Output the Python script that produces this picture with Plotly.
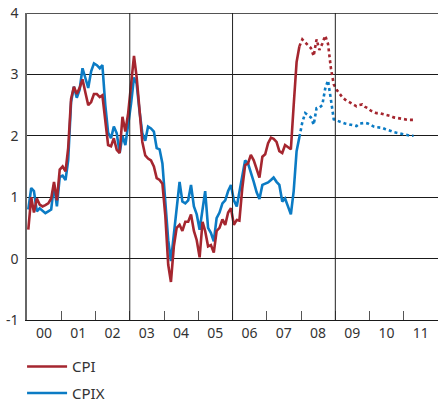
import pandas as pd
import plotly.graph_objects as go

# monthly outcome Jan 2000 - Dec 2007, forecast Dec 2007 - Apr 2011
months = pd.date_range('2000-01-01', periods=96, freq='MS') + pd.Timedelta(days=14)
fc_months = pd.date_range('2007-12-01', periods=41, freq='MS') + pd.Timedelta(days=14)

cpi = [0.47, 1.0, 0.75, 0.98, 0.88, 0.85, 0.87, 0.9, 0.98, 1.25, 0.95, 1.45,
       1.5, 1.42, 1.8, 2.6, 2.8, 2.68, 2.78, 2.92, 2.7, 2.5, 2.55, 2.68,
       2.68, 2.63, 2.66, 2.25, 1.85, 1.83, 1.96, 1.77, 1.72, 2.31, 2.07, 2.37,
       2.8, 3.3, 2.96, 2.4, 1.9, 1.68, 1.63, 1.6, 1.5, 1.31, 1.28, 1.22,
       0.7, -0.1, -0.38, 0.2, 0.5, 0.55, 0.45, 0.6, 0.6, 0.72, 0.45, 0.3,
       0.02, 0.6, 0.45, 0.2, 0.22, 0.1, 0.45, 0.5, 0.64, 0.55, 0.75, 0.82,
       0.55, 0.63, 0.62, 1.15, 1.52, 1.55, 1.69, 1.6, 1.45, 1.32, 1.66, 1.7,
       1.88, 1.97, 1.95, 1.9, 1.75, 1.72, 1.85, 1.82, 1.78, 2.5, 3.2, 3.46]

cpix = [0.8, 1.15, 1.1, 0.77, 0.82, 0.78, 0.74, 0.77, 0.8, 1.2, 0.85, 1.33,
        1.35, 1.28, 1.6, 2.55, 2.8, 2.62, 2.75, 3.1, 2.95, 2.78, 3.05, 3.18,
        3.15, 3.1, 3.15, 2.5, 2.05, 1.96, 2.15, 2.04, 1.72, 2.0, 1.85, 2.15,
        2.53, 2.95, 2.85, 2.4, 2.04, 1.92, 2.15, 2.12, 2.07, 1.8, 1.78, 1.55,
        0.95, 0.3, -0.04, 0.4, 0.85, 1.25, 0.93, 0.9, 0.95, 1.2, 0.85, 0.72,
        0.47, 0.8, 1.1, 0.5, 0.42, 0.28, 0.66, 0.75, 0.9, 0.95, 1.1, 1.2,
        0.95, 0.85, 1.1, 1.4, 1.6, 1.55, 1.42, 1.25, 1.08, 0.97, 1.2, 1.22,
        1.24, 1.28, 1.32, 1.25, 1.2, 0.93, 0.98, 0.85, 0.72, 1.1, 1.75, 1.98]

cpi_fc = [3.46, 3.57, 3.52, 3.48, 3.43, 3.3, 3.57, 3.4, 3.5, 3.63, 3.5, 3.1,
          2.84, 2.75, 2.68, 2.63, 2.59, 2.56, 2.53, 2.5, 2.48, 2.5, 2.51, 2.47,
          2.45, 2.41, 2.39, 2.37, 2.37, 2.36, 2.34, 2.33, 2.32, 2.3, 2.29, 2.29,
          2.28, 2.27, 2.26, 2.26, 2.26]

cpix_fc = [1.98, 2.22, 2.37, 2.34, 2.3, 2.18, 2.45, 2.46, 2.5, 2.77, 2.9, 2.59,
           2.27, 2.25, 2.23, 2.22, 2.2, 2.19, 2.18, 2.17, 2.16, 2.2, 2.21, 2.21,
           2.2, 2.17, 2.15, 2.14, 2.14, 2.13, 2.11, 2.1, 2.08, 2.06, 2.05, 2.03,
           2.02, 2.01, 2.0, 2.0, 2.0]

year_labels = ['00', '01', '02', '03', '04', '05', '06', '07', '08', '09', '10', '11']
label_pos = pd.date_range('2000-07-01', periods=12, freq='12MS')
year_ticks = pd.date_range('2001-01-01', periods=11, freq='12MS')
dividers = ['2003-01-01', '2006-01-01', '2009-01-01']
y_ticks = [-1, 0, 1, 2, 3, 4]
y_labels = ['-1', '0', '1', '2', '3', '4']

RED = '#A5262F'
BLUE = '#0B7BC4'

fig = go.Figure()
fig.add_trace(go.Scatter(x=months, y=cpix, mode='lines', name='CPIX',
                         line=dict(color=BLUE, width=2.6),
                         legendgroup='cpix', legendrank=2))
fig.add_trace(go.Scatter(x=fc_months, y=cpix_fc, mode='lines', showlegend=False,
                         line=dict(color=BLUE, width=2.6, dash='dot'),
                         legendgroup='cpix'))
fig.add_trace(go.Scatter(x=months, y=cpi, mode='lines', name='CPI',
                         line=dict(color=RED, width=2.6),
                         legendgroup='cpi', legendrank=1))
fig.add_trace(go.Scatter(x=fc_months, y=cpi_fc, mode='lines', showlegend=False,
                         line=dict(color=RED, width=2.6, dash='dot'),
                         legendgroup='cpi'))

for d in dividers:
    fig.add_shape(type='line', xref='x', yref='paper', x0=d, x1=d, y0=0, y1=1,
                  line=dict(color='#222', width=1))
# top frame line at 4
fig.add_shape(type='line', xref='paper', yref='y', x0=0, x1=1, y0=4, y1=4,
              line=dict(color='#1a1a1a', width=1.3))

fig.update_layout(
    width=438,
    height=403,
    margin=dict(l=27, r=0, t=13, b=83, autoexpand=False),
    paper_bgcolor='white',
    plot_bgcolor='white',
    font=dict(family='Noto Sans, Open Sans, sans-serif', color='#333', size=14),
    showlegend=True,
    legend=dict(
        x=-0.012, xanchor='left',
        yref='container', y=0.131, yanchor='top',
        traceorder='grouped',
        tracegroupgap=4,
        itemwidth=40,
        font=dict(size=15, color='#333'),
        bgcolor='rgba(0,0,0,0)'
    ),
    xaxis=dict(
        type='date',
        range=['2000-01-01', '2012-01-01'],
        tickmode='array',
        tickvals=label_pos,
        ticktext=year_labels,
        ticks='',
        showgrid=False,
        zeroline=False,
        showline=True,
        linecolor='#1a1a1a',
        linewidth=1.3,
        tickfont=dict(size=14, color='#333'),
        minor=dict(tickmode='array', tickvals=year_ticks, ticks='inside',
                   ticklen=9, tickcolor='#555', tickwidth=1, showgrid=False),
    ),
    yaxis=dict(
        range=[-1, 4],
        tickmode='array',
        tickvals=y_ticks,
        ticktext=y_labels,
        showgrid=True,
        gridcolor='#1a1a1a',
        gridwidth=1.3,
        zeroline=False,
        showline=True,
        linecolor='#666',
        linewidth=1.5,
        ticks='',
        ticklabelstandoff=4,
        tickfont=dict(size=14, color='#333'),
    ),
)

fig.write_html('out.html', config={'displayModeBar': False},
               post_script="document.body.style.margin='0';")
